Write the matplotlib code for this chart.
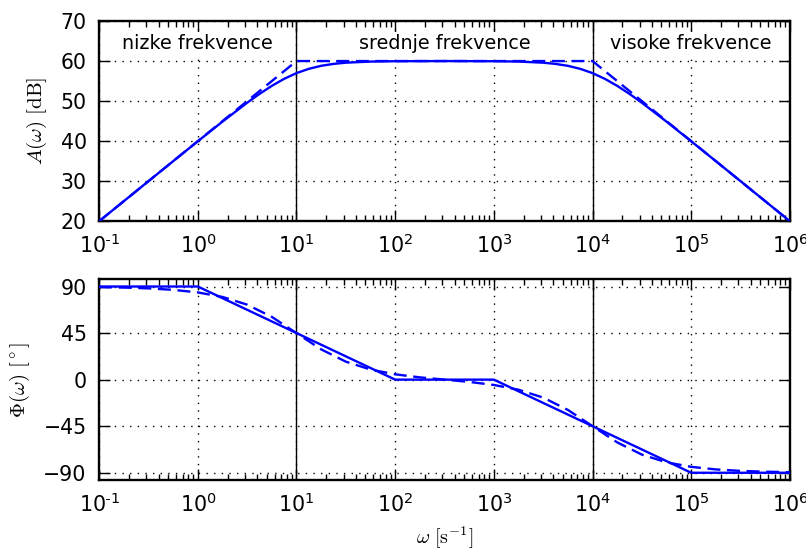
import matplotlib
matplotlib.use("Agg")
import matplotlib.pyplot as plt
from matplotlib.ticker import FixedLocator, LogLocator, NullFormatter

plt.rcParams["mathtext.fontset"] = "cm"
plt.rcParams["font.family"] = ["DejaVu Sans"]

# Frequency samples (log10 of omega) and the exact amplitude response [dB]
amp_logw = [-1, -0.75, -0.5, -0.25, 0, 0.25, 0.5, 0.625, 0.75, 0.875, 1, 1.125,
            1.25, 1.375, 1.5, 1.75, 2, 2.5, 3, 3.25, 3.5, 3.625, 3.75, 3.875,
            4, 4.125, 4.25, 4.375, 4.5, 4.75, 5, 5.25, 5.5, 5.75, 6]
amp_db = [20.0, 25.0, 30.0, 34.99, 39.96, 44.87, 49.59, 51.79, 53.81, 55.56, 56.99,
          58.06, 58.81, 59.29, 59.59, 59.87, 59.96, 60.0, 59.96, 59.87, 59.59, 59.29,
          58.81, 58.06, 56.99, 55.56, 53.81, 51.79, 49.59, 44.87, 39.96, 34.99, 30.0,
          25.0, 20.0]

# Asymptotic amplitude (straight-line approximation)
amp_asym_w = [1e-1, 1e1, 1e4, 1e6]
amp_asym_db = [20, 60, 60, 20]

# Exact phase response [deg]
ph_logw = [-1, -0.75, -0.5, -0.25, 0, 0.25, 0.5, 0.75, 1, 1.25, 1.5, 1.75, 2,
           2.25, 2.5, 2.75, 3, 3.25, 3.5, 3.75, 4, 4.25, 4.5, 4.75, 5, 5.25,
           5.5, 5.75, 6]
ph_deg = [89.43, 88.98, 88.19, 86.78, 84.29, 79.92, 72.45, 60.64, 44.94, 29.26,
          17.37, 9.76, 5.14, 2.20, 0.0, -2.20, -5.14, -9.76, -17.37, -29.26,
          -44.94, -60.64, -72.45, -79.92, -84.29, -86.78, -88.19, -88.98, -89.43]

# Asymptotic phase
ph_asym_w = [1e-1, 1e0, 1e2, 1e3, 1e5, 1e6]
ph_asym_deg = [90, 90, 0, 0, -90, -90]

# Corner frequencies separating the bands
corners = [1e1, 1e4]
band_labels = ["nizke frekvence", "srednje frekvence", "visoke frekvence"]
band_centers = [1e0, 10 ** 2.5, 1e5]

x_ticks = [1e-1, 1e0, 1e1, 1e2, 1e3, 1e4, 1e5, 1e6]
x_ticklabels = [r"$\mathdefault{10^{\text{-}1}}$"] + \
               [r"$\mathdefault{10^{%d}}$" % e for e in range(0, 7)]
amp_yticks = [20, 30, 40, 50, 60, 70]
ph_yticks = [-90, -45, 0, 45, 90]

blue = "#0000ff"

fig = plt.figure(figsize=(8.06, 5.53), dpi=100)
ax1 = fig.add_axes([0.123, 0.600, 0.857, 0.362])
ax2 = fig.add_axes([0.123, 0.132, 0.857, 0.363])


def style(ax):
    ax.set_xscale("log")
    ax.set_xlim(1e-1, 1e6)
    ax.xaxis.set_major_locator(FixedLocator(x_ticks))
    ax.xaxis.set_minor_locator(LogLocator(base=10, subs=range(2, 10), numticks=20))
    ax.xaxis.set_minor_formatter(NullFormatter())
    ax.set_xticklabels(x_ticklabels)
    ax.tick_params(which="both", direction="in", top=True, right=True,
                   labelsize=14.8, width=1, color="black")
    ax.tick_params(which="major", length=8, pad=9)
    ax.tick_params(which="minor", length=4)
    ax.grid(True, which="major", color="black", linestyle=(0, (1, 4.5)), linewidth=1)
    for s in ax.spines.values():
        s.set_linewidth(1.7)
    for c in corners:
        ax.axvline(c, color="black", linewidth=1, zorder=1.5)


amp_w = [10 ** v for v in amp_logw]
ph_w = [10 ** v for v in ph_logw]

dash = (0, (5.5, 2.8))
ax1.plot(amp_w, amp_db, color=blue, linewidth=1.7, zorder=3)
ax1.plot(amp_asym_w, amp_asym_db, color=blue, linewidth=1.7, linestyle=dash, zorder=3)
style(ax1)
ax1.set_ylim(20, 70)
ax1.set_yticks(amp_yticks)
ax1.set_ylabel(r"$A(\omega)\ [\mathrm{dB}]$", fontsize=15, labelpad=8)
for lab, xc in zip(band_labels, band_centers):
    ax1.text(xc, 64.5, lab, ha="center", va="center", fontsize=13.8,
             bbox=dict(facecolor="white", edgecolor="none", pad=1))

ax2.plot(ph_asym_w, ph_asym_deg, color=blue, linewidth=1.7, zorder=3)
ax2.plot(ph_w, ph_deg, color=blue, linewidth=1.7, linestyle=dash, zorder=3)
style(ax2)
ax2.set_ylim(-97, 97)
ax2.set_yticks(ph_yticks)
ax2.set_ylabel(r"$\Phi(\omega)\ [^\circ]$", fontsize=15, labelpad=8)
ax2.set_xlabel(r"$\omega\ [\mathrm{s}^{-1}]$", fontsize=14.5, labelpad=6)

fig.savefig("out.png", dpi=100)
